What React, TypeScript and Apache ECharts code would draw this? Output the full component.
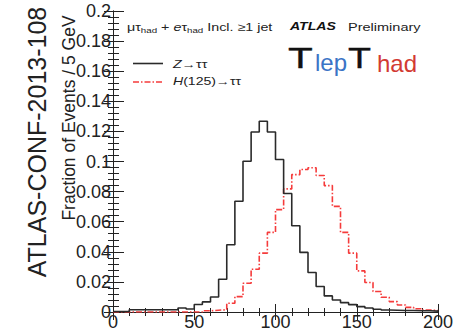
import React, { useEffect, useRef } from "react";
import * as echarts from "echarts";

// Left edges of the 5 GeV bins (GeV), last entry closes the final bin
const binEdges = [
  0, 5, 10, 15, 20, 25, 30, 35, 40, 45, 50, 55, 60, 65, 70, 75, 80, 85, 90, 95,
  100, 105, 110, 115, 120, 125, 130, 135, 140, 145, 150, 155, 160, 165, 170, 175,
  180, 185, 190, 195, 200,
];

// Z -> tautau fraction per bin
const zTauTau = [
  0.0003, 0.0003, 0.0015, 0.0015, 0.0015, 0.0015, 0.0015, 0.0015, 0.0027, 0.002,
  0.005, 0.0067, 0.01, 0.0218, 0.0447, 0.0736, 0.1002, 0.1196, 0.1267, 0.1196,
  0.1013, 0.0787, 0.0573, 0.0396, 0.0262, 0.0169, 0.0107, 0.008, 0.0062, 0.0049,
  0.0036, 0.0027, 0.0018, 0.0013, 0.0012, 0.001, 0.001, 0.0008, 0.0008, 0.0006,
];

// H(125) -> tautau fraction per bin
const hTauTau = [
  0, 0, 0, 0, 0, 0, 0, 0, 0, 0,
  0, 0.0008, 0.0012, 0.0015, 0.0058, 0.0102, 0.0191, 0.0284, 0.0391, 0.0529,
  0.068, 0.0818, 0.0913, 0.0947, 0.0958, 0.0907, 0.084, 0.0702, 0.0529, 0.0391,
  0.0273, 0.0196, 0.0136, 0.0098, 0.0069, 0.0047, 0.0031, 0.0022, 0.0013, 0.001,
];

const xTicks = [0, 50, 100, 150, 200];
const yTicks = [0, 0.02, 0.04, 0.06, 0.08, 0.1, 0.12, 0.14, 0.16, 0.18, 0.2];

const FONT = '"Liberation Sans", Arial, Helvetica, sans-serif';
const AX = "#222";
const RED = "#f53b3b";
const BLACK = "#2a2a2a";

function steps(vals: number[]) {
  const pts: number[][] = vals.map((v, i) => [binEdges[i], v]);
  pts.push([binEdges[vals.length], vals[vals.length - 1]]);
  return pts;
}

export default function App() {
  const ref = useRef<HTMLDivElement>(null);
  useEffect(() => {
    if (!ref.current) return;
    const chart = echarts.init(ref.current, undefined, { renderer: "svg" });
    const xMin = xTicks[0];
    const xMax = xTicks[xTicks.length - 1];
    const yMin = yTicks[0];
    const yMax = yTicks[yTicks.length - 1];
    const baseX = {
      type: "value" as const,
      min: xMin,
      max: xMax,
      interval: 50,
      axisLine: { show: true, lineStyle: { color: AX, width: 1 } },
      splitLine: { show: false },
    };
    const baseY = {
      type: "value" as const,
      min: yMin,
      max: yMax,
      interval: 0.02,
      axisLine: { show: true, lineStyle: { color: AX, width: 1 } },
      splitLine: { show: false },
    };
    const sub = { fontSize: 7.5, fontFamily: FONT, fill: AX, verticalAlign: "bottom", lineHeight: 14 };
    const norm = { fontSize: 11, fontFamily: FONT, fill: AX, lineHeight: 13 };
    chart.setOption({
      animation: false,
      backgroundColor: "#fff",
      grid: { left: 113, right: 23, top: 11, bottom: 19, containLabel: false },
      xAxis: [
        {
          ...baseX,
          position: "bottom",
          axisTick: { show: true, inside: true, length: 8, lineStyle: { color: AX } },
          minorTick: { show: true, splitNumber: 5, length: 4, lineStyle: { color: AX } },
          axisLabel: {
            show: true,
            margin: 1,
            fontSize: 18,
            fontFamily: FONT,
            color: AX,
            showMinLabel: true,
            showMaxLabel: true,
          },
        },
        {
          ...baseX,
          position: "top",
          axisTick: { show: true, inside: true, length: 8, lineStyle: { color: AX } },
          minorTick: { show: true, splitNumber: 5, length: 4, lineStyle: { color: AX } },
          axisLabel: { show: false },
        },
      ],
      yAxis: [
        {
          ...baseY,
          position: "left",
          axisTick: { show: true, inside: true, length: 11, lineStyle: { color: AX } },
          minorTick: { show: true, splitNumber: 5, length: 6, lineStyle: { color: AX } },
          axisLabel: {
            show: true,
            margin: 2,
            fontSize: 18,
            fontFamily: FONT,
            color: AX,
            showMinLabel: true,
            showMaxLabel: true,
            formatter: (v: number) => (v === 0 ? "0" : String(+v.toFixed(2))),
          },
        },
        {
          ...baseY,
          position: "right",
          axisTick: { show: true, inside: true, length: 9, lineStyle: { color: AX } },
          minorTick: { show: true, splitNumber: 5, length: 5, lineStyle: { color: AX } },
          axisLabel: { show: false },
        },
      ],
      series: [
        {
          name: "H(125)→ττ",
          type: "line",
          xAxisIndex: 0,
          yAxisIndex: 0,
          step: "end",
          symbol: "none",
          data: steps(hTauTau),
          lineStyle: { color: RED, width: 1.6, type: [6, 2, 1.5, 2] },
          z: 3,
        },
        {
          name: "Z→ττ",
          type: "line",
          xAxisIndex: 0,
          yAxisIndex: 0,
          step: "end",
          symbol: "none",
          data: steps(zTauTau),
          lineStyle: { color: BLACK, width: 1.6 },
          z: 4,
        },
      ],
      graphic: [
        {
          type: "text",
          x: 37,
          y: 142,
          rotation: Math.PI / 2,
          style: {
            text: "ATLAS-CONF-2013-108",
            font: `25px ${FONT}`,
            fill: AX,
            align: "center",
            verticalAlign: "middle",
          },
        },
        {
          type: "text",
          x: 69,
          y: 118,
          rotation: Math.PI / 2,
          style: {
            text: "Fraction of Events / 5 GeV",
            font: `17.5px ${FONT}`,
            fill: AX,
            align: "center",
            verticalAlign: "middle",
          },
        },
        {
          type: "text",
          x: 127,
          y: 27,
          scaleX: 1.3,
          style: {
            text: "{n|μτ}{s|had}{n| + }{i|e}{n|τ}{s|had}{n| Incl. ≥1 jet}",
            align: "left",
            verticalAlign: "middle",
            rich: {
              n: norm,
              i: { ...norm, fontStyle: "italic" },
              s: sub,
            },
          },
        },
        {
          type: "text",
          x: 290,
          y: 27,
          scaleX: 1.28,
          style: {
            text: "ATLAS",
            font: `italic bold 11px ${FONT}`,
            fill: "#111",
            align: "left",
            verticalAlign: "middle",
          },
        },
        {
          type: "text",
          x: 348,
          y: 27,
          scaleX: 1.32,
          style: {
            text: "Preliminary",
            font: `11px ${FONT}`,
            fill: AX,
            align: "left",
            verticalAlign: "middle",
          },
        },
        {
          type: "line",
          shape: { x1: 133, y1: 63.5, x2: 163, y2: 63.5 },
          style: { stroke: BLACK, lineWidth: 1.6 },
        },
        {
          type: "line",
          shape: { x1: 133, y1: 82, x2: 163, y2: 82 },
          style: { stroke: RED, lineWidth: 1.6, lineDash: [6, 2, 1.5, 2] },
        },
        {
          type: "text",
          x: 173,
          y: 64,
          scaleX: 1.3,
          style: {
            text: "{i|Z}{n|→ττ}",
            align: "left",
            verticalAlign: "middle",
            rich: { n: norm, i: { ...norm, fontStyle: "italic" } },
          },
        },
        {
          type: "text",
          x: 173,
          y: 82,
          scaleX: 1.28,
          style: {
            text: "{i|H}{n|(125)→ττ}",
            align: "left",
            verticalAlign: "middle",
            rich: { n: norm, i: { ...norm, fontStyle: "italic" } },
          },
        },
        {
          type: "text",
          x: 288,
          y: 58,
          scaleX: 1.4,
          style: {
            text: "Τ",
            font: `29px ${FONT}`,
            fill: "#111",
            stroke: "#111",
            lineWidth: 0.3,
            align: "left",
            verticalAlign: "middle",
          },
        },
        {
          type: "text",
          x: 315,
          y: 62,
          style: {
            text: "lep",
            font: `24px ${FONT}`,
            fill: "#3b74c6",
            align: "left",
            verticalAlign: "middle",
          },
        },
        {
          type: "text",
          x: 348,
          y: 58,
          scaleX: 1.3,
          style: {
            text: "Τ",
            font: `29px ${FONT}`,
            fill: "#111",
            stroke: "#111",
            lineWidth: 0.3,
            align: "left",
            verticalAlign: "middle",
          },
        },
        {
          type: "text",
          x: 377,
          y: 63,
          style: {
            text: "had",
            font: `24px ${FONT}`,
            fill: "#d23a32",
            align: "left",
            verticalAlign: "middle",
          },
        },
      ],
    });
    return () => chart.dispose();
  }, []);
  return (
    <div
      ref={ref}
      style={{ position: "fixed", left: 0, top: 0, width: 461, height: 331, background: "#fff" }}
    />
  );
}
